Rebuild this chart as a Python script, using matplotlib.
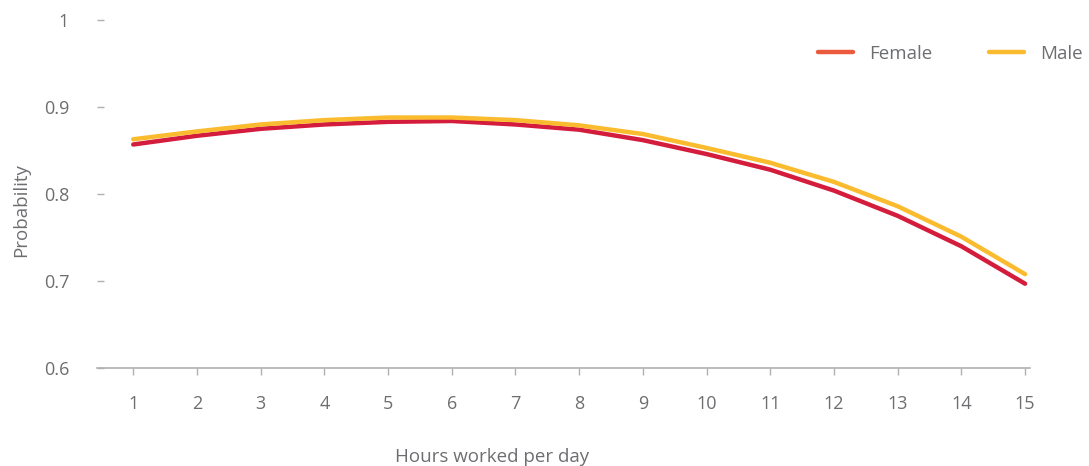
import matplotlib
matplotlib.use("Agg")
import matplotlib.pyplot as plt
from matplotlib.lines import Line2D

hours = [1, 2, 3, 4, 5, 6, 7, 8, 9, 10, 11, 12, 13, 14, 15]
female = [0.857, 0.867, 0.875, 0.880, 0.883, 0.884, 0.880, 0.874, 0.862,
          0.846, 0.828, 0.804, 0.775, 0.740, 0.697]
male = [0.863, 0.872, 0.880, 0.885, 0.888, 0.888, 0.885, 0.879, 0.869,
        0.853, 0.836, 0.814, 0.786, 0.751, 0.708]
y_ticks = [0.6, 0.7, 0.8, 0.9, 1.0]
y_labels = ["0.6", "0.7", "0.8", "0.9", "1"]

text_col = "#6d6e71"
axis_col = "#b0b0b0"
female_col = "#d41c3d"
female_legend_col = "#ec5a3e"
male_col = "#fbbb2e"

plt.rcParams['font.family'] = ['Open Sans', 'DejaVu Sans']

fig = plt.figure(figsize=(10.89, 4.66), dpi=100)
ax = fig.add_axes([0.089, 0.210, 0.857, 0.747])

ax.plot(hours, female, color=female_col, lw=3.2, solid_capstyle='round')
ax.plot(hours, male, color=male_col, lw=3.2, solid_capstyle='round')

ax.set_xlim(0.43, 15.08)
ax.set_ylim(0.6, 1.0)
ax.set_xticks(hours)
ax.set_yticks(y_ticks)
ax.set_yticklabels(y_labels)

for s in ['top', 'right', 'left']:
    ax.spines[s].set_visible(False)
ax.spines['bottom'].set_color(axis_col)
ax.spines['bottom'].set_linewidth(1.2)

ax.tick_params(axis='x', direction='out', length=5, width=1, color=axis_col,
               labelcolor=text_col, labelsize=13, pad=14)
ax.tick_params(axis='y', direction='in', length=5, width=1, color=axis_col,
               labelcolor=text_col, labelsize=13, pad=20)

ax.set_xlabel("Hours worked per day", color=text_col, fontsize=13.5)
ax.xaxis.set_label_coords(0.423, -0.228)
ax.set_ylabel("Probability", color=text_col, fontsize=13.5)
ax.yaxis.set_label_coords(-0.072, 0.454)

handles = [Line2D([0], [0], color=female_legend_col, lw=3.2, solid_capstyle='round'),
           Line2D([0], [0], color=male_col, lw=3.2, solid_capstyle='round')]
leg = fig.legend(handles, ["Female", "Male"], loc='center right',
                 bbox_to_anchor=(1.01, 0.884), ncol=2, frameon=False,
                 fontsize=13.5, handlelength=1.9, handletextpad=0.85,
                 columnspacing=3.0)
for t in leg.get_texts():
    t.set_color(text_col)

fig.savefig("out.png", dpi=100)
